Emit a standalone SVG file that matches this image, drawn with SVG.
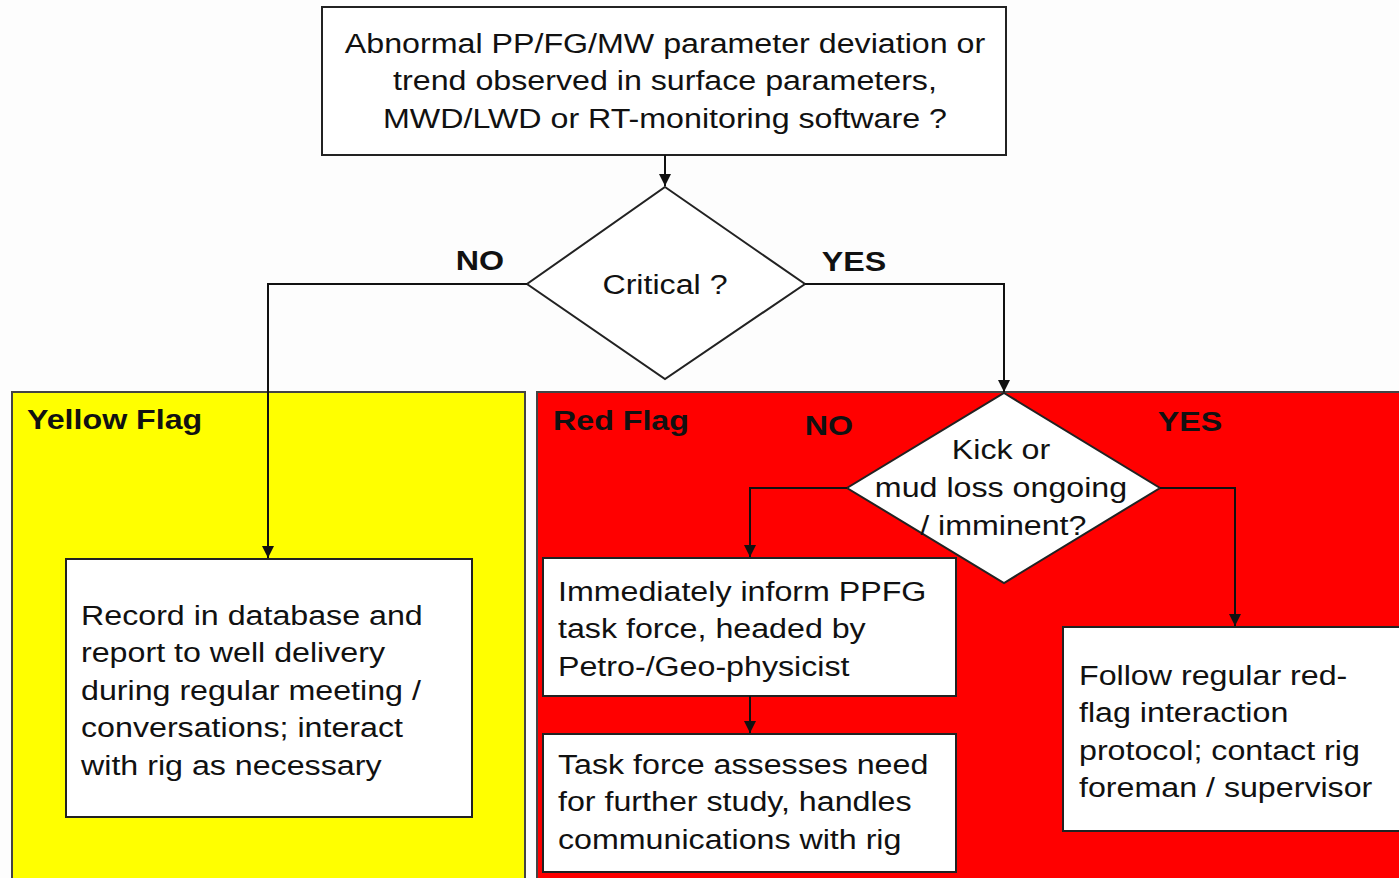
<svg xmlns="http://www.w3.org/2000/svg" width="1399" height="878" viewBox="0 0 1399 878">
<defs>
<style>
.t{font-family:"Liberation Sans",Arial,sans-serif;font-size:28px;fill:#111;}
.b{font-weight:bold;}
.box{fill:#fff;stroke:#222;stroke-width:2;}
.dia{fill:#fff;stroke:#222;stroke-width:2;}
.conn{fill:none;stroke:#111;stroke-width:2;}
</style>
<marker id="ah" markerUnits="userSpaceOnUse" markerWidth="14" markerHeight="16" refX="12" refY="6" orient="auto">
<path d="M0,0 L12,6 L0,12 Z" fill="#111"/>
</marker>
</defs>
<rect width="1399" height="878" fill="#fdfdfd"/>

<g id="yellow-flag">
<rect x="12" y="392" width="513" height="500" fill="#ffff00" stroke="#444" stroke-width="2"/>
<text class="t b" transform="translate(27,429) scale(1.15,1)">Yellow Flag</text>
</g>

<g id="red-flag">
<rect x="537" y="392" width="880" height="500" fill="#ff0000" stroke="#444" stroke-width="2"/>
<text class="t b" transform="translate(553,430) scale(1.15,1)">Red Flag</text>
</g>

<g id="top-box">
<rect class="box" x="322" y="7" width="684" height="148"/>
<text class="t" text-anchor="middle" transform="translate(665,53) scale(1.15,1)"><tspan x="0">Abnormal PP/FG/MW parameter deviation or</tspan><tspan x="0" dy="37.5">trend observed in surface parameters,</tspan><tspan x="0" dy="37.5">MWD/LWD or RT-monitoring software ?</tspan></text>
</g>

<g id="critical">
<polygon class="dia" points="665,187 805,284 665,379 527,284"/>
<text class="t" text-anchor="middle" transform="translate(665,294) scale(1.15,1)">Critical ?</text>
</g>

<g id="record-box">
<rect class="box" x="66" y="559" width="406" height="258"/>
<text class="t" transform="translate(81,625) scale(1.15,1)"><tspan x="0">Record in database and</tspan><tspan x="0" dy="37.5">report to well delivery</tspan><tspan x="0" dy="37.5">during regular meeting /</tspan><tspan x="0" dy="37.5">conversations; interact</tspan><tspan x="0" dy="37.5">with rig as necessary</tspan></text>
</g>

<g id="kick">
<polygon class="dia" points="1004,393 1160,488 1004,583 847,488"/>
<text class="t" text-anchor="middle" transform="translate(1001,459) scale(1.15,1)"><tspan x="0">Kick or</tspan><tspan x="0" dy="38.5">mud loss ongoing</tspan><tspan x="2" dy="38">/ imminent?</tspan></text>
</g>

<g id="inform-box">
<rect class="box" x="543" y="558" width="413" height="138"/>
<text class="t" transform="translate(558,601) scale(1.15,1)"><tspan x="0">Immediately inform PPFG</tspan><tspan x="0" dy="37.5">task force, headed by</tspan><tspan x="0" dy="37.5">Petro-/Geo-physicist</tspan></text>
</g>

<g id="assess-box">
<rect class="box" x="543" y="734" width="413" height="138"/>
<text class="t" transform="translate(558,774) scale(1.15,1)"><tspan x="0">Task force assesses need</tspan><tspan x="0" dy="37.5">for further study, handles</tspan><tspan x="0" dy="37.5">communications with rig</tspan></text>
</g>

<g id="protocol-box">
<rect class="box" x="1063" y="627" width="360" height="204"/>
<text class="t" transform="translate(1079,685) scale(1.15,1)"><tspan x="0">Follow regular red-</tspan><tspan x="0" dy="37.5">flag interaction</tspan><tspan x="0" dy="37.5">protocol; contact rig</tspan><tspan x="0" dy="37.5">foreman / supervisor</tspan></text>
</g>

<g id="connectors">
<path class="conn" d="M665,155 L665,186" marker-end="url(#ah)"/>
<path class="conn" d="M527,284 L268,284 L268,558" marker-end="url(#ah)"/>
<path class="conn" d="M805,284 L1004,284 L1004,392" marker-end="url(#ah)"/>
<path class="conn" d="M847,488 L750,488 L750,557" marker-end="url(#ah)"/>
<path class="conn" d="M750,696 L750,733" marker-end="url(#ah)"/>
<path class="conn" d="M1160,488 L1235,488 L1235,626" marker-end="url(#ah)"/>
<text class="t b" text-anchor="middle" transform="translate(480,270) scale(1.15,1)">NO</text>
<text class="t b" text-anchor="middle" transform="translate(854,271) scale(1.15,1)">YES</text>
<text class="t b" text-anchor="middle" transform="translate(829,435) scale(1.15,1)">NO</text>
<text class="t b" text-anchor="middle" transform="translate(1190,431) scale(1.15,1)">YES</text>
</g>
</svg>
